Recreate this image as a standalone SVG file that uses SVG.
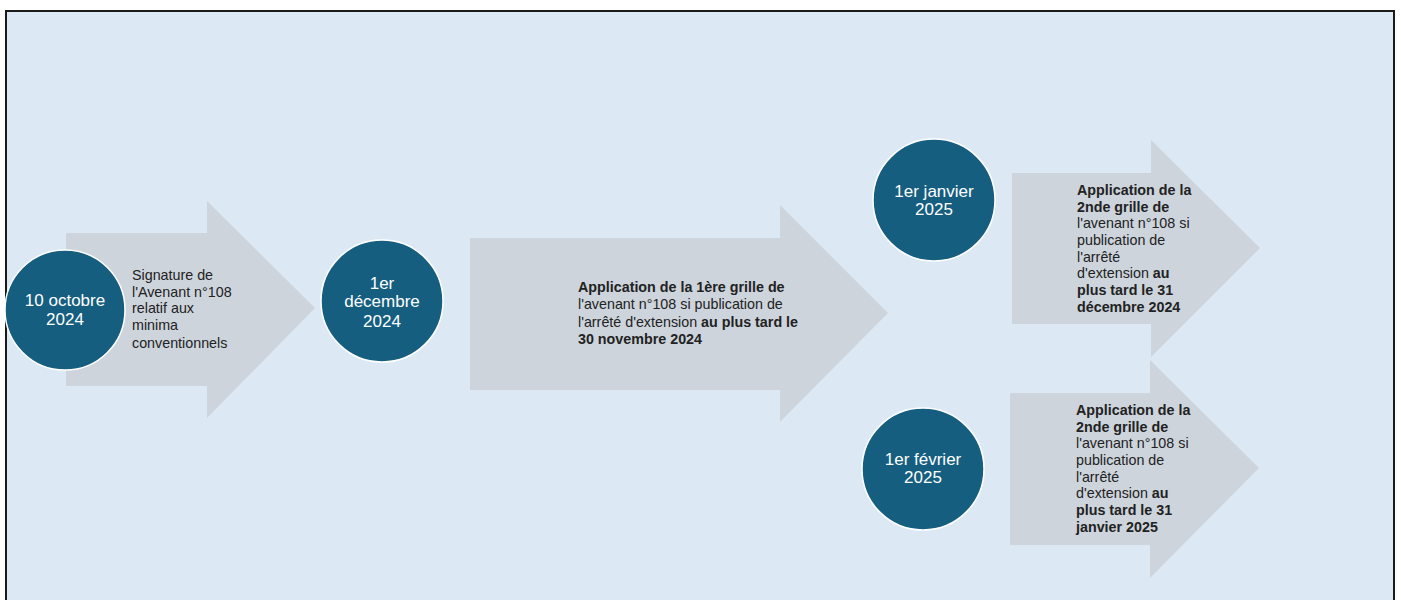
<svg xmlns="http://www.w3.org/2000/svg" width="1401" height="600" viewBox="0 0 1401 600">
<style>
.arrow{fill:#cdd4dc}
.dot{fill:#155e80;stroke:#ffffff;stroke-width:1.5}
.dt{font-family:"Liberation Sans",Arial,sans-serif;font-size:17px;fill:#ffffff;text-anchor:middle}
.tx{font-family:"Liberation Sans",Arial,sans-serif;font-size:14.3px;fill:#222222}
.b{font-weight:bold}
</style>
<rect x="0" y="0" width="1401" height="600" fill="#ffffff"/>
<rect x="6" y="11" width="1388" height="600" fill="#dce9f5" stroke="#1a1a1a" stroke-width="2"/>
<g id="connectors">
<polygon id="arrow1" class="arrow" points="66,233 207,233 207,201 315,308 207,418 207,386 66,386"/>
<polygon id="arrow2" class="arrow" points="470,238 780,238 780,205 888,313 780,422 780,390 470,390"/>
<polygon id="arrow3" class="arrow" points="1012,173 1151,173 1151,140 1260,248 1151,357 1151,324 1012,324"/>
<polygon id="arrow4" class="arrow" points="1010,393 1150,393 1150,360 1259,468 1150,578 1150,545 1010,545"/>
</g>
<g id="label1">
<text class="tx" x="132" y="280">Signature de</text>
<text class="tx" x="132" y="297">l'Avenant n°108</text>
<text class="tx" x="132" y="313">relatif aux</text>
<text class="tx" x="132" y="330">minima</text>
<text class="tx" x="132" y="348">conventionnels</text>
</g>
<g id="label2">
<text class="tx b" x="578" y="292">Application de la 1ère grille de</text>
<text class="tx" x="578" y="309">l'avenant n°108 si publication de</text>
<text class="tx" x="578" y="327">l'arrêté d'extension <tspan class="b">au plus tard le</tspan></text>
<text class="tx b" x="578" y="344">30 novembre 2024</text>
</g>
<g id="label3">
<text class="tx b" x="1077" y="195">Application de la</text>
<text class="tx b" x="1077" y="212">2nde grille de</text>
<text class="tx" x="1077" y="228">l'avenant n°108 si</text>
<text class="tx" x="1077" y="245">publication de</text>
<text class="tx" x="1077" y="262">l'arrêté</text>
<text class="tx" x="1077" y="278">d'extension <tspan class="b">au</tspan></text>
<text class="tx b" x="1077" y="295">plus tard le 31</text>
<text class="tx b" x="1077" y="312">décembre 2024</text>
</g>
<g id="label4">
<text class="tx b" x="1076" y="415">Application de la</text>
<text class="tx b" x="1076" y="432">2nde grille de</text>
<text class="tx" x="1076" y="448">l'avenant n°108 si</text>
<text class="tx" x="1076" y="465">publication de</text>
<text class="tx" x="1076" y="482">l'arrêté</text>
<text class="tx" x="1076" y="498">d'extension <tspan class="b">au</tspan></text>
<text class="tx b" x="1076" y="515">plus tard le 31</text>
<text class="tx b" x="1076" y="532">janvier 2025</text>
</g>
<g id="node1">
<circle class="dot" cx="65" cy="310" r="60"/>
<text class="dt" x="65" y="306">10 octobre</text>
<text class="dt" x="65" y="325">2024</text>
</g>
<g id="node2">
<circle class="dot" cx="382" cy="301" r="61"/>
<text class="dt" x="382" y="289">1er</text>
<text class="dt" x="382" y="307">décembre</text>
<text class="dt" x="382" y="327">2024</text>
</g>
<g id="node3">
<circle class="dot" cx="934" cy="200" r="61"/>
<text class="dt" x="934" y="197">1er janvier</text>
<text class="dt" x="934" y="215">2025</text>
</g>
<g id="node4">
<circle class="dot" cx="923" cy="469" r="61"/>
<text class="dt" x="923" y="465">1er février</text>
<text class="dt" x="923" y="483">2025</text>
</g>
</svg>
